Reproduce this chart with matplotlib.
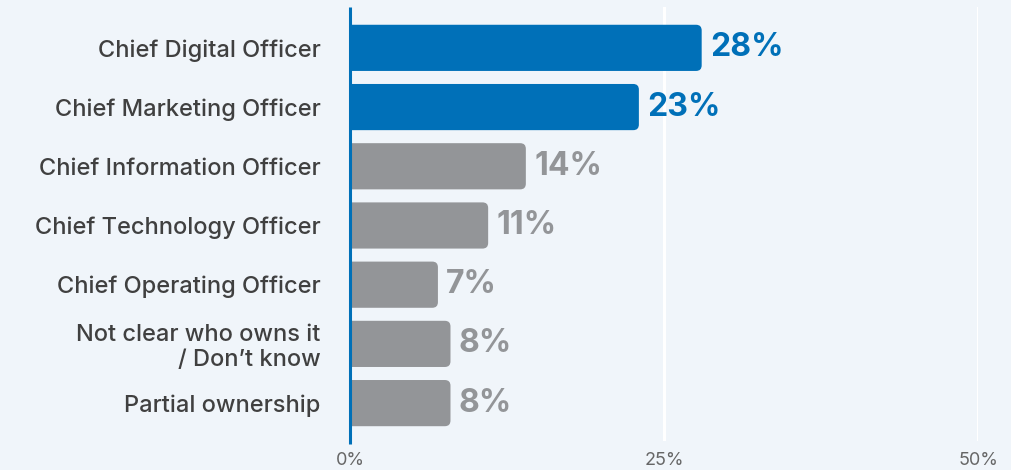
import matplotlib
matplotlib.use("Agg")
import matplotlib.pyplot as plt
from matplotlib.patches import FancyBboxPatch

categories = [
    "Chief Digital Officer",
    "Chief Marketing Officer",
    "Chief Information Officer",
    "Chief Technology Officer",
    "Chief Operating Officer",
    "Not clear who owns it\n/ Don\u2019t know",
    "Partial ownership",
]
values = [28, 23, 14, 11, 7, 8, 8]
highlight = [True, True, False, False, False, False, False]
x_ticks = [0, 25, 50]
x_tick_labels = ["0%", "25%", "50%"]

BG = "#f0f5fa"
BLUE = "#0070b8"
GREY = "#939598"
TEXT = "#404040"

plt.rcParams["font.family"] = ["Inter", "DejaVu Sans"]

W, H = 1012, 470
top_px, bottom_px = 7, 441
fig = plt.figure(figsize=(W / 100, H / 100), dpi=100, facecolor=BG)
ax = fig.add_axes([350 / W, (H - bottom_px) / H, (978 - 350) / W,
                   (bottom_px - top_px) / H], facecolor=BG)

n = len(categories)
y_lo, y_hi = n - 1 + 0.64, -0.69
ax.set_xlim(0, 50)
ax.set_ylim(y_lo, y_hi)

# white vertical gridlines
for t in x_ticks[1:]:
    ax.axvline(t, color="white", lw=2.2, zorder=0)

bar_h = 0.78
px_x = 628 / 50.0
px_y = (bottom_px - top_px) / (y_lo - y_hi)
aspect = px_x / px_y
for i, (v, hi) in enumerate(zip(values, highlight)):
    c = BLUE if hi else GREY
    start = -1.0
    p = FancyBboxPatch((start, i - bar_h / 2), v - start, bar_h,
                       boxstyle="round,pad=0,rounding_size=0.45",
                       mutation_aspect=aspect, fc=c, ec="none", zorder=2)
    ax.add_patch(p)
    ax.annotate(f"{v}%", xy=(v, i), xytext=(6, 0), textcoords="offset points",
                ha="left", va="center", fontsize=23, fontweight="bold",
                color=c, zorder=3)

# blue baseline at 0
ax.plot([0, 0], [y_lo + 0.05, y_hi], color=BLUE, lw=2.2, zorder=4,
        clip_on=False, solid_capstyle="butt")

ax.set_yticks(range(n))
ax.set_yticklabels(categories, fontsize=17, color=TEXT, linespacing=1.15,
                   fontweight="medium")
ax.set_xticks(x_ticks)
ax.set_xticklabels(x_tick_labels, fontsize=13, color="#666666")
ax.tick_params(axis="y", length=0, pad=21)
ax.tick_params(axis="x", length=0, pad=8)
for s in ax.spines.values():
    s.set_visible(False)

fig.savefig("out.png", dpi=100, facecolor=BG)
